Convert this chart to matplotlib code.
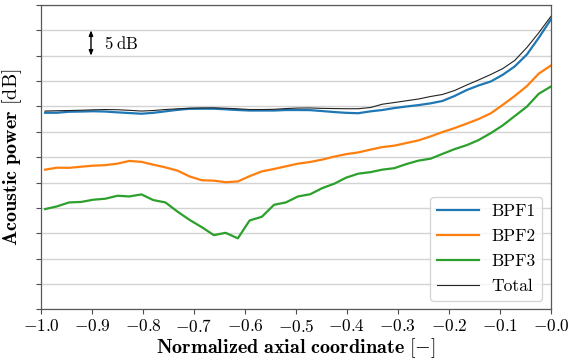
import numpy as np
import matplotlib
matplotlib.use("Agg")
import matplotlib.pyplot as plt

plt.rcParams['font.family'] = 'serif'
plt.rcParams['font.serif'] = ['cmr10']
plt.rcParams['mathtext.fontset'] = 'cm'
plt.rcParams['axes.formatter.use_mathtext'] = True
plt.rcParams['axes.unicode_minus'] = True

# normalized axial position of the sampling points
x = [-0.992, -0.969, -0.945, -0.921, -0.898, -0.874, -0.850, -0.827, -0.803,
     -0.780, -0.756, -0.732, -0.709, -0.685, -0.661, -0.638, -0.614, -0.591,
     -0.567, -0.543, -0.520, -0.496, -0.472, -0.449, -0.425, -0.402, -0.378,
     -0.354, -0.331, -0.307, -0.284, -0.260, -0.236, -0.213, -0.189, -0.165,
     -0.142, -0.118, -0.095, -0.071, -0.047, -0.024, 0.000]

# acoustic power levels, relative dB
bpf1 = [38.75, 38.75, 38.95, 38.99, 39.05, 38.99, 38.83, 38.70, 38.56, 38.74,
        39.03, 39.33, 39.53, 39.55, 39.55, 39.43, 39.29, 39.19, 39.19, 39.19,
        39.29, 39.29, 39.27, 39.09, 38.89, 38.74, 38.66, 39.03, 39.29, 39.68,
        39.98, 40.26, 40.61, 41.07, 42.06, 43.24, 44.13, 44.92, 46.21, 47.89,
        50.26, 53.52, 57.17]
bpf2 = [27.53, 27.92, 27.89, 28.12, 28.32, 28.42, 28.72, 29.25, 29.07, 28.52,
        27.98, 27.33, 26.21, 25.45, 25.36, 25.06, 25.20, 26.25, 27.19, 27.67,
        28.18, 28.72, 29.05, 29.51, 30.10, 30.59, 30.93, 31.48, 31.98, 32.27,
        32.77, 33.30, 34.09, 34.94, 35.73, 36.62, 37.51, 38.64, 40.28, 42.06,
        44.03, 46.46, 48.08]
bpf3 = [19.76, 20.28, 21.07, 21.17, 21.60, 21.80, 22.39, 22.25, 22.65, 21.54,
        21.07, 19.23, 17.65, 16.21, 14.62, 15.08, 13.99, 17.51, 18.24, 20.61,
        21.07, 22.25, 22.69, 23.87, 24.76, 25.94, 26.74, 27.04, 27.53, 27.83,
        28.62, 29.31, 29.70, 30.63, 31.58, 32.37, 33.36, 34.74, 36.23, 38.10,
        39.98, 42.49, 43.93]
total = [39.09, 39.15, 39.19, 39.25, 39.33, 39.39, 39.35, 39.23, 39.09, 39.19,
         39.39, 39.53, 39.64, 39.70, 39.72, 39.64, 39.53, 39.39, 39.39, 39.43,
         39.58, 39.68, 39.70, 39.62, 39.58, 39.55, 39.55, 39.78, 40.43, 40.77,
         41.11, 41.46, 41.96, 42.35, 43.14, 44.23, 45.22, 46.30, 47.43, 49.07,
         51.64, 54.51, 57.77]

fig = plt.figure(figsize=(5.68, 3.62), dpi=100)
ax = fig.add_axes([0.0722, 0.1456, 0.8978, 0.8406])

ax.plot(x, bpf1, color='#1f77b4', lw=1.6, label='BPF1')
ax.plot(x, bpf2, color='#ff7f0e', lw=1.6, label='BPF2')
ax.plot(x, bpf3, color='#2ca02c', lw=1.6, label='BPF3')
ax.plot(x, total, color='#222222', lw=0.8, label='Total')

# 5 dB scale bar
ax.annotate('', xy=(-0.902, 55), xytext=(-0.902, 50),
            arrowprops=dict(arrowstyle='<|-|>,head_length=0.3,head_width=0.12',
                            color='k', lw=1.0, shrinkA=0, shrinkB=0))
ax.text(-0.877, 52.5, r'$5\;\mathrm{dB}$', ha='left', va='center', fontsize=12)

ax.set_xlim(-1.0, 0.0)
ax.set_ylim(0, 60)
ax.set_xticks(np.arange(-1.0, 0.01, 0.1))
ax.set_yticks(np.arange(0, 61, 5))
ax.set_yticklabels([])
ax.xaxis.set_major_formatter(matplotlib.ticker.FormatStrFormatter(r'$%.1f$'))
ax.tick_params(labelsize=12.5, color='0.3', length=3.5, width=0.8)
ax.tick_params(axis='x', pad=3)
ax.grid(axis='y', color='#d3d3d3', lw=1.0)
ax.set_axisbelow(True)
for s in ax.spines.values():
    s.set_color('0.35')
    s.set_linewidth(0.9)

ax.set_xlabel(r'$\mathbf{Normalized\ axial\ coordinate}\ [-]$', fontsize=14.5, labelpad=1)
ax.set_ylabel(r'$\mathbf{Acoustic\ power}\ [\mathrm{dB}]$', fontsize=14.5, labelpad=5)

ax.legend(loc='lower right', fontsize=12.5, handlelength=2.4, labelspacing=0.55,
          handletextpad=0.7, framealpha=0.8)

fig.savefig('out.png', dpi=100)
